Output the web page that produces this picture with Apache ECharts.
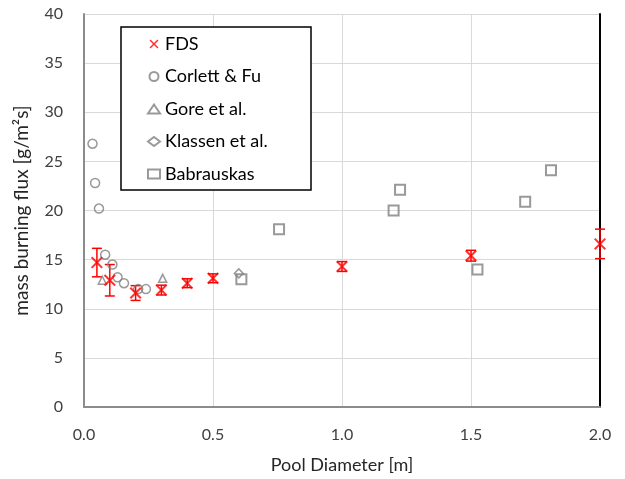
<!DOCTYPE html>
<html><head><meta charset="utf-8">
<script src="https://cdn.jsdelivr.net/npm/echarts@6/dist/echarts.min.js"></script>
<style>html,body{margin:0;padding:0;background:#fff}#c{width:625px;height:479px}</style>
</head><body><div id="c"></div>
<script>
// ---- data ----
const fdsX = [0.05, 0.1, 0.2, 0.3, 0.4, 0.5, 1.0, 1.5, 2.0];
const fdsY = [14.7, 12.9, 11.6, 11.9, 12.6, 13.1, 14.3, 15.4, 16.6];
const fdsErr = [1.45, 1.6, 0.75, 0.5, 0.45, 0.45, 0.5, 0.55, 1.5];

const corlettX = [0.033, 0.043, 0.058, 0.082, 0.11, 0.13, 0.155, 0.21, 0.24];
const corlettY = [26.8, 22.8, 20.2, 15.5, 14.5, 13.2, 12.6, 12.0, 12.0];

const goreX = [0.071, 0.305];
const goreY = [12.9, 13.1];

const klassenX = [0.6];
const klassenY = [13.6];

const babX = [0.61, 0.756, 1.2, 1.225, 1.525, 1.71, 1.81];
const babY = [13.0, 18.1, 20.0, 22.1, 14.0, 20.9, 24.1];

const xTicks = [0, 0.5, 1.0, 1.5, 2.0];
const yTicks = [0, 5, 10, 15, 20, 25, 30, 35, 40];

const seriesNames = ['FDS', 'Corlett & Fu', 'Gore et al.', 'Klassen et al.', 'Babrauskas'];

// ---- build ----
const zip = (a, b) => a.map((v, i) => [v, b[i]]);
const gray = '#7f7f7f';
const red = '#ff0000';
const font = 'Lato, "Liberation Sans", sans-serif';
const xShape = 'path://M0,1.2 L1.2,0 L5,3.8 L8.8,0 L10,1.2 L6.2,5 L10,8.8 L8.8,10 L5,6.2 L1.2,10 L0,8.8 L3.8,5 Z';

const chart = echarts.init(document.getElementById('c'), null, {renderer: 'canvas'});
chart.setOption({
  animation: false,
  textStyle: {fontFamily: font},
  grid: {left: 84, right: 25, top: 14, bottom: 71, containLabel: false},
  xAxis: {
    type: 'value', min: 0, max: 2, interval: 0.5,
    name: 'Pool Diameter [m]', nameLocation: 'middle', nameGap: 49,
    nameTextStyle: {fontSize: 18, color: '#262626', fontFamily: font},
    axisLine: {show: true, onZero: false, lineStyle: {color: '#8c8c8c', width: 2}},
    axisTick: {show: false},
    axisLabel: {fontSize: 16, color: '#404040', margin: 20, fontFamily: font,
      formatter: v => v.toFixed(1)},
    splitLine: {show: true, lineStyle: {color: '#d9d9d9', width: 1}}
  },
  yAxis: [{
    type: 'value', min: 0, max: 40, interval: 5,
    name: 'mass burning flux [g/m²s]', nameLocation: 'middle', nameGap: 53,
    nameTextStyle: {fontSize: 19, color: '#262626', fontFamily: font},
    axisLine: {show: true, lineStyle: {color: '#8c8c8c', width: 2}},
    axisTick: {show: false},
    axisLabel: {fontSize: 16, color: '#404040', margin: 21, fontFamily: font},
    splitLine: {show: true, lineStyle: {color: '#d9d9d9', width: 1}}
  }, {
    type: 'value', min: 0, max: 40, interval: 5, position: 'right',
    axisLine: {show: true, lineStyle: {color: '#000', width: 2}},
    axisTick: {show: false}, axisLabel: {show: false}, splitLine: {show: false}
  }],
  graphic: [{
    type: 'rect', z: 3, silent: true,
    shape: {x: 121, y: 27, width: 190, height: 163},
    style: {fill: '#fff', stroke: '#000', lineWidth: 1.5}
  }],
  legend: {
    data: seriesNames, orient: 'vertical', left: 147, top: 34, z: 5,
    itemWidth: 12, itemHeight: 9, itemGap: 12.5, padding: 0,
    textStyle: {fontSize: 18, lineHeight: 20, color: '#000', fontFamily: font}
  },
  series: [
    {
      name: 'FDS err', type: 'custom', z: 2,
      data: fdsX.map((x, i) => [x, fdsY[i], fdsErr[i]]),
      renderItem: (params, api) => {
        const x = api.value(0), y = api.value(1), e = api.value(2);
        const hi = api.coord([x, y + e]);
        const lo = api.coord([x, y - e]);
        const w = 5;
        const st = {stroke: red, lineWidth: 1.5, fill: null};
        return {type: 'group', children: [
          {type: 'line', shape: {x1: hi[0], y1: hi[1], x2: lo[0], y2: lo[1]}, style: st},
          {type: 'line', shape: {x1: hi[0] - w, y1: hi[1], x2: hi[0] + w, y2: hi[1]}, style: st},
          {type: 'line', shape: {x1: lo[0] - w, y1: lo[1], x2: lo[0] + w, y2: lo[1]}, style: st}
        ]};
      }
    },
    {
      name: 'Corlett & Fu', type: 'scatter', data: zip(corlettX, corlettY),
      symbol: 'circle', symbolSize: 9,
      itemStyle: {color: 'rgba(255,255,255,0)', borderColor: gray, borderWidth: 1.5}
    },
    {
      name: 'Gore et al.', type: 'scatter', data: zip(goreX, goreY),
      symbol: 'triangle', symbolSize: 8,
      itemStyle: {color: 'rgba(255,255,255,0)', borderColor: gray, borderWidth: 1.5}
    },
    {
      name: 'Klassen et al.', type: 'scatter', data: zip(klassenX, klassenY),
      symbol: 'diamond', symbolSize: 9,
      itemStyle: {color: 'rgba(255,255,255,0)', borderColor: gray, borderWidth: 1.5}
    },
    {
      name: 'Babrauskas', type: 'scatter', data: zip(babX, babY),
      symbol: 'rect', symbolSize: 10,
      itemStyle: {color: 'rgba(255,255,255,0)', borderColor: gray, borderWidth: 2}
    },
    {
      name: 'FDS', type: 'scatter', data: zip(fdsX, fdsY), z: 3,
      symbol: xShape, symbolSize: 12,
      itemStyle: {color: red, borderWidth: 0}
    }
  ]
});
</script></body></html>
